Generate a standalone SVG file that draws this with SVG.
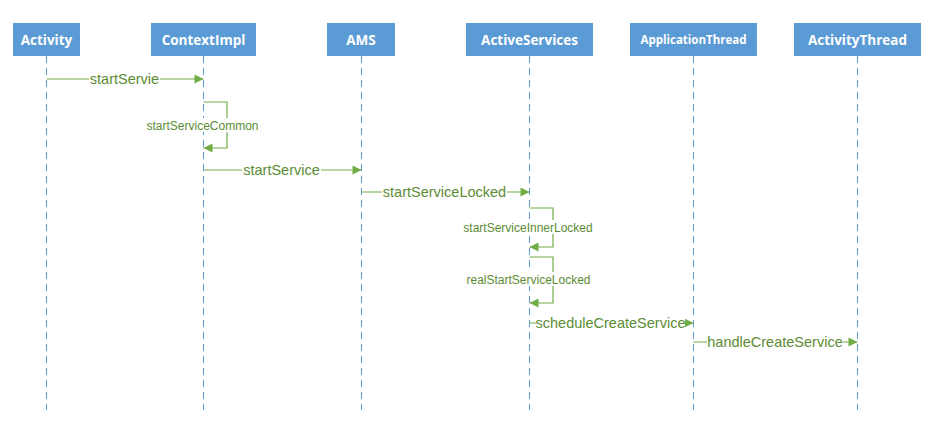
<svg xmlns="http://www.w3.org/2000/svg" width="932" height="442" viewBox="0 0 932 442">
<style>
.box{fill:#5b9bd5}
.hd{fill:#fff;font-family:"Open Sans","Liberation Sans",sans-serif;font-weight:bold;font-size:13.5px;text-anchor:middle}
.life{stroke:#5b9bd5;stroke-width:1;stroke-dasharray:7 5;fill:none}
.msg{stroke:#70ad47;stroke-width:1.2;fill:none}
.lbl{fill:#5b8c33;font-family:"Liberation Sans",sans-serif;font-size:14.5px;text-anchor:middle}
.sl{fill:#5b8c33;font-family:"Liberation Sans",sans-serif;font-size:12px;text-anchor:middle}
.bg{fill:#fff}
</style>
<defs>
<marker id="ah" viewBox="0 0 10 10" refX="10" refY="5" markerWidth="10" markerHeight="9" markerUnits="userSpaceOnUse" orient="auto">
<path d="M0,0 L10,5 L0,10 z" fill="#70ad47"/>
</marker>
</defs>
<rect width="932" height="442" fill="#fff"/>
<g id="lifelines">
<line class="life" x1="46.5" y1="56" x2="46.5" y2="410"/>
<line class="life" x1="203.5" y1="56" x2="203.5" y2="410"/>
<line class="life" x1="361.5" y1="56" x2="361.5" y2="410"/>
<line class="life" x1="529.5" y1="56" x2="529.5" y2="410"/>
<line class="life" x1="693.5" y1="56" x2="693.5" y2="410"/>
<line class="life" x1="857.5" y1="56" x2="857.5" y2="410"/>
</g>
<g id="Activity"><rect class="box" x="13" y="23" width="67" height="33"/><text class="hd" x="46.5" y="44.5">Activity</text></g>
<g id="ContextImpl"><rect class="box" x="151" y="23" width="105" height="33"/><text class="hd" x="203.5" y="44.5">ContextImpl</text></g>
<g id="AMS"><rect class="box" x="327" y="23" width="68" height="33"/><text class="hd" x="361" y="44.5">AMS</text></g>
<g id="ActiveServices"><rect class="box" x="466" y="23" width="127" height="33"/><text class="hd" x="529.5" y="44.5">ActiveServices</text></g>
<g id="ApplicationThread"><rect class="box" x="630" y="23" width="127" height="33"/><text class="hd" x="693.5" y="44" style="font-size:11.5px">ApplicationThread</text></g>
<g id="ActivityThread"><rect class="box" x="794" y="23" width="127" height="33"/><text class="hd" x="857.5" y="44.5">ActivityThread</text></g>
<g id="connectors">
<line class="msg" x1="46.5" y1="79" x2="203.5" y2="79" marker-end="url(#ah)"/>
<rect class="bg" x="89" y="71" width="71" height="16"/>
<text class="lbl" x="124.5" y="84">startServie</text>

<polyline class="msg" points="203.5,102 227,102 227,148 203.5,148" marker-end="url(#ah)"/>
<rect class="bg" x="145" y="118" width="116" height="14"/>
<text class="sl" x="202.5" y="129.5">startServiceCommon</text>

<line class="msg" x1="203.5" y1="170" x2="361.5" y2="170" marker-end="url(#ah)"/>
<rect class="bg" x="242" y="162" width="79" height="16"/>
<text class="lbl" x="281.5" y="175">startService</text>

<line class="msg" x1="361.5" y1="192" x2="529.5" y2="192" marker-end="url(#ah)"/>
<rect class="bg" x="382" y="184" width="125" height="16"/>
<text class="lbl" x="444.5" y="197">startServiceLocked</text>

<polyline class="msg" points="529.5,208 553,208 553,247 529.5,247" marker-end="url(#ah)"/>
<rect class="bg" x="461" y="220" width="134" height="14"/>
<text class="sl" x="528" y="231.5">startServiceInnerLocked</text>

<polyline class="msg" points="529.5,257 553,257 553,303 529.5,303" marker-end="url(#ah)"/>
<rect class="bg" x="465" y="272" width="127" height="14"/>
<text class="sl" x="528.5" y="283.5">realStartServiceLocked</text>

<line class="msg" x1="529.5" y1="323" x2="693.5" y2="323" marker-end="url(#ah)"/>
<rect class="bg" x="536" y="315" width="149" height="16"/>
<text class="lbl" x="610.5" y="328">scheduleCreateService</text>

<line class="msg" x1="693.5" y1="342" x2="857.5" y2="342" marker-end="url(#ah)"/>
<rect class="bg" x="707" y="334" width="136" height="16"/>
<text class="lbl" x="775" y="347">handleCreateService</text>
</g>
</svg>
